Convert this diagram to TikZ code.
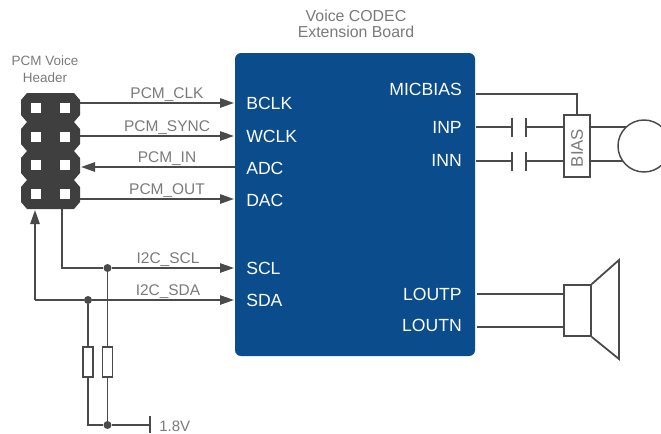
\documentclass[tikz,border=0pt]{standalone}
\usepackage{fontspec}
\setmainfont{Liberation Sans}
\usetikzlibrary{arrows.meta}
\definecolor{chipblue}{HTML}{0B4C8C}
\definecolor{wire}{HTML}{4A4A4A}
\definecolor{lbl}{HTML}{7A7A7A}
\tikzset{
  wireline/.style={draw=wire,line width=1.35pt},
  sig/.style={wireline,-{Triangle[length=10.5pt,width=7pt]},shorten >=0pt},
  sigtext/.style={text=lbl,font=\fontsize{11.6}{13}\selectfont,inner sep=0pt,anchor=base},
  port/.style={text=white,font=\fontsize{13.2}{15}\selectfont,inner sep=0pt,anchor=base west},
  portr/.style={text=white,font=\fontsize{13.2}{15}\selectfont,inner sep=0pt,anchor=base east},
  title/.style={text=lbl,align=center,inner sep=0pt},
  pin/.style={fill=white,draw=none,minimum size=7.5pt,inner sep=0pt},
  dotj/.style={circle,fill=wire,draw=none,minimum size=6pt,inner sep=0pt},
  resistor/.style={draw=wire,fill=white,line width=1.1pt,minimum width=7.5pt,minimum height=22.5pt,inner sep=0pt},
  capplate/.style={draw=wire,line width=1.2pt},
}
\begin{document}
\begin{tikzpicture}[x=0.75pt,y=-0.75pt]
\useasboundingbox (0,0) rectangle (661,433);
% chip
\node[fill=chipblue,rounded corners=4.5pt,minimum width=180pt,minimum height=227.25pt,inner sep=0pt] (chip) at (355,204.5) {};
\node[title,font=\fontsize{11.9}{12.4}\selectfont] (t1) at (356,24) {Voice CODEC\\Extension Board};
\node[title,font=\fontsize{10.1}{12.6}\selectfont] (t2) at (45,69) {PCM Voice\\Header};
% header
\fill[fill=wire!85!black] (27,93) -- (74,93)
  \foreach \y in {93,122,151,180} {
    -- (80,\y+7) -- (80,\y+22) -- (74,\y+29)
  } -- (27,209)
  \foreach \y in {180,151,122,93} {
    -- (21,\y+22) -- (21,\y+7) -- (27,\y)
  } -- cycle;
\foreach \n/\y in {1/108,2/137,3/165,4/194} {
  \node[pin] (pa\n) at (36,\y) {};
  \node[pin] (pb\n) at (64.5,\y) {};
}
% header end points
\coordinate (h1) at (80,103);
\coordinate (h2) at (80,136);
\coordinate (h3) at (81,167);
\coordinate (h4) at (80,199);
\coordinate (hscl) at (62,209);
\coordinate (hsda) at (35,210);
\coordinate (p1) at (234,103);
\coordinate (p2) at (234,136);
\coordinate (p3) at (235,167);
\coordinate (p4) at (234,199);
\coordinate (p5) at (234,268);
\coordinate (p6) at (234,300);
\draw[sig] (h1) -- (p1);
\draw[sig] (h2) -- (p2);
\draw[sig] (p3) -- (h3);
\draw[sig] (h4) -- (p4);
\node[sigtext] (l1) at (167,98.5) {PCM\_CLK};
\node[sigtext] (l2) at (167,131) {PCM\_SYNC};
\node[sigtext] (l3) at (167,162.5) {PCM\_IN};
\node[sigtext] (l4) at (167,194.5) {PCM\_OUT};
\node[sigtext] (l5) at (168,263) {I2C\_SCL};
\node[sigtext] (l6) at (168,295) {I2C\_SDA};
% ports
\node[port] (n1) at (246,109) {BCLK};
\node[port] (n2) at (246,142) {WCLK};
\node[port] (n3) at (246,174) {ADC};
\node[port] (n4) at (246,206) {DAC};
\node[port] (n5) at (246,274) {SCL};
\node[port] (n6) at (246,306) {SDA};
\node[portr] (n7) at (462,95) {MICBIAS};
\node[portr] (n8) at (462,133) {INP};
\node[portr] (n9) at (462,166) {INN};
\node[portr] (n10) at (462,300) {LOUTP};
\node[portr] (n11) at (462,331) {LOUTN};
% I2C
\node[dotj] (ja) at (107.5,268) {};
\node[dotj] (jb) at (88,300) {};
\node[dotj] (jc) at (107.5,425) {};
\coordinate (ka) at (62,268);
\coordinate (kb) at (35,300);
\coordinate (kc) at (88,425);
\coordinate (vdd) at (150,425);
\coordinate (vt) at (150,416);
\coordinate (vb) at (150,433);
\draw[wireline] (hscl) -- (ka) -- (ja);
\draw[sig] (ja) -- (p5);
\draw[sig] (kb) -- (hsda);
\draw[wireline] (kb) -- (jb);
\draw[sig] (jb) -- (p6);
\draw[wireline] (jb) -- (kc) -- (jc) -- (vdd);
\draw[wireline] (ja) -- (jc);
\draw[wireline] (vt) -- (vb);
\node[resistor] (r1) at (88,362) {};
\node[resistor] (r2) at (107.5,362) {};
\node[text=lbl,font=\fontsize{11.3}{13}\selectfont,inner sep=0pt,anchor=base west] (v) at (159,431) {1.8V};
% mic
\coordinate (cmb) at (476,94);
\coordinate (ci) at (476,127);
\coordinate (cn) at (476,161);
\node[draw=wire,fill=white,line width=1.35pt,minimum width=19.5pt,minimum height=46.5pt,inner sep=0pt] (bias) at (577,146) {};
\node[text=lbl,rotate=90,font=\fontsize{12.6}{13}\selectfont,inner sep=0pt] (biast) at (577,148) {BIAS};
\coordinate (bt) at (577,94);
\draw[wireline] (cmb) -- (bt) -- (bias.north);
\foreach \p/\y/\nm in {ci/127/a,cn/161/b} {
  \coordinate (c\nm l) at (512,\y);
  \coordinate (c\nm r) at (526,\y);
  \coordinate (b\nm) at (564,\y);
  \coordinate (m\nm) at (590,\y);
  \draw[wireline] (\p) -- (c\nm l);
  \draw[wireline] (c\nm r) -- (b\nm);
  \draw[capplate] (512,\y-9.5) -- (512,\y+9.5);
  \draw[capplate] (526,\y-9.5) -- (526,\y+9.5);
}
\coordinate (mica) at (626,127);
\coordinate (micb) at (626,161);
\draw[wireline] (ma) -- (mica);
\draw[wireline] (mb) -- (micb);
\node[circle,draw=wire,fill=white,line width=1.1pt,minimum size=39pt,inner sep=0pt] (mic) at (644,146) {};
% speaker
\coordinate (sa) at (477,294);
\coordinate (sb) at (477,327);
\node[draw=wire,fill=white,line width=1.35pt,minimum width=20pt,minimum height=38.25pt,inner sep=0pt] (spk) at (577.5,310.5) {};
\draw[wireline] (sa) -- (sa -| spk.west);
\draw[wireline] (sb) -- (sb -| spk.west);
\draw[wireline,line join=miter] (spk.north east) -- (619,260) -- (619,359) -- (spk.south east);
\end{tikzpicture}
\end{document}
